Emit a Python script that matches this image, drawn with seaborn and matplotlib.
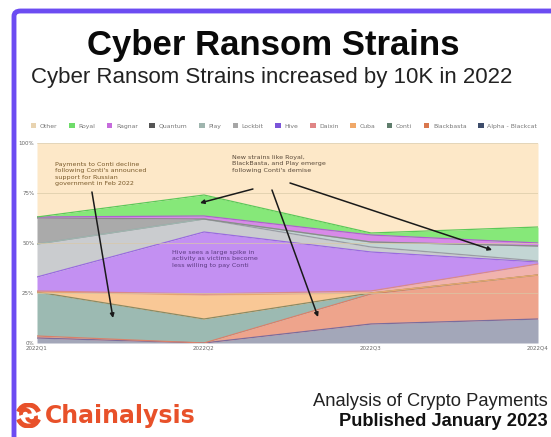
import numpy as np
import pandas as pd
import matplotlib
matplotlib.use("Agg")
import matplotlib.pyplot as plt
import seaborn as sns
from matplotlib.patches import Patch, FancyBboxPatch, Arc

quarters = ["2022Q1", "2022Q2", "2022Q3", "2022Q4"]
# stacked bottom -> top (share of payments, %)
alpha_blackcat = [2.5, 0.0, 9.5, 12.0]
blackbasta = [1.0, 0.0, 15.0, 22.0]
conti = [22.0, 12.0, 0.5, 0.0]
cuba = [0.0, 12.0, 0.0, 0.0]
daixin = [0.5, 0.5, 1.0, 5.5]
hive = [7.0, 31.0, 19.5, 1.0]
lockbit = [16.5, 6.5, 2.5, 0.5]
play = [0.0, 0.0, 2.5, 7.5]
quantum = [13.0, 0.0, 0.0, 0.0]
ragnar = [0.5, 1.5, 3.5, 1.5]
royal = [0.0, 10.5, 1.0, 8.0]
other = [37.0, 26.0, 45.0, 42.0]

series_names = ["Alpha - Blackcat", "Blackbasta", "Conti", "Cuba", "Daixin", "Hive",
                "Lockbit", "Play", "Quantum", "Ragnar", "Royal", "Other"]
series_vals = [alpha_blackcat, blackbasta, conti, cuba, daixin, hive,
               lockbit, play, quantum, ragnar, royal, other]
fill_colors = ["#a3a7b9", "#eea48c", "#9cbab2", "#f9c896", "#f1b3ad", "#c390f2",
               "#cacccf", "#c3d6d4", "#aaaaaa", "#d88ae8", "#86e879", "#fde8c8"]
edge_colors = ["#7b6c9c", "#d9806a", "#8c8a62", "#e8a870", "#d98a8a", "#9a6ae0",
               "#9a9ca4", "#9fb5ae", "#8a8a8a", "#b060d0", "#5cc858", "#fde8c8"]
legend_colors = ["#3e4d6b", "#d9774e", "#5f7d6c", "#f0a868", "#e08585", "#7b55d9",
                 "#a6a6a6", "#9fb5ae", "#555555", "#c66bdc", "#6fdc6a", "#e8d3b0"]

W, H = 551, 437
sns.set_theme(style="white")
fig = plt.figure(figsize=(W / 100, H / 100), dpi=100)
fig.patch.set_facecolor("white")

def fx(px):
    return px / W

def fy(py):
    return 1 - py / H

ax = fig.add_axes([fx(37), fy(343), fx(538) - fx(37), fy(143) - fy(343)])
x = np.arange(len(quarters))
df = pd.DataFrame({n: v for n, v in zip(series_names, series_vals)}, index=x)
cum = df.cumsum(axis=1)

ax.stackplot(x, *[df[n].values for n in series_names], colors=fill_colors, linewidth=0)
long = []
for i, n in enumerate(series_names[:-1]):
    for xi in x:
        long.append({"x": xi, "y": cum[n].iloc[xi], "s": n})
ldf = pd.DataFrame(long)
sns.lineplot(data=ldf, x="x", y="y", hue="s", palette=dict(zip(series_names, edge_colors)),
             linewidth=0.9, legend=False, ax=ax, sort=False)

for gy in [25, 50, 75, 100]:
    ax.axhline(gy, color="#d9c9a6", lw=0.6, alpha=0.8, zorder=5)

ax.set_xlim(0, 3)
ax.set_ylim(0, 100)
ax.set_xticks(x)
ax.set_xticklabels(quarters, fontsize=4, color="#666666")
ax.set_yticks([0, 25, 50, 75, 100])
ax.set_yticklabels(["0%", "25%", "50%", "75%", "100%"], fontsize=4, color="#666666")
ax.tick_params(axis="both", length=0, pad=2)
ax.set_xlabel("")
ax.set_ylabel("")
for s in ax.spines.values():
    s.set_visible(False)

# annotations
ax.text(0.108, 90.5, "Payments to Conti decline\nfollowing Conti's announced\nsupport for Russian\ngovernment in Feb 2022",
        fontsize=4.6, color="#7a5a2a", va="top", ha="left", linespacing=1.35, zorder=6)
ax.text(1.168, 94, "New strains like Royal,\nBlackBasta, and Play emerge\nfollowing Conti's demise",
        fontsize=4.6, color="#5a4a3a", va="top", ha="left", linespacing=1.35, zorder=6)
ax.text(0.808, 46.5, "Hive sees a large spike in\nactivity as victims become\nless willing to pay Conti",
        fontsize=4.6, color="#5b3a80", va="top", ha="left", linespacing=1.35, zorder=6)
arrows = [((0.329, 75.5), (0.455, 12.5)),
          ((1.293, 77.0), (0.976, 70.0)),
          ((1.407, 76.5), (1.683, 13.0)),
          ((1.515, 80.0), (2.725, 46.5))]
for (s, e) in arrows:
    ax.annotate("", xy=e, xytext=s,
                arrowprops=dict(arrowstyle="-|>", color="#1a1a1a", lw=1.1,
                                mutation_scale=6, shrinkA=0, shrinkB=0), zorder=7)

# legend
handles = [Patch(facecolor=c, edgecolor="none") for c in legend_colors[::-1]]
labels = series_names[::-1]
fig.legend(handles, labels, loc="center", bbox_to_anchor=(fx(284), fy(126)), ncol=12,
           fontsize=4.4, frameon=False, handlelength=0.9, handleheight=0.9,
           columnspacing=1.9, handletextpad=0.6, labelcolor="#777777")

# titles
fig.text(fx(273), fy(45), "Cyber Ransom Strains", fontsize=25, fontweight="bold",
         ha="center", va="center", family="Liberation Sans", color="#0a0a0a")
fig.text(fx(272), fy(77), "Cyber Ransom Strains increased by 10K in 2022", fontsize=16,
         ha="center", va="center", family="Liberation Sans", color="#222222")

# bottom texts
fig.text(fx(548), fy(402), "Analysis of Crypto Payments", fontsize=13.2, ha="right", va="center",
         family="Liberation Sans", color="#222222")
fig.text(fx(548), fy(421), "Published January 2023", fontsize=13.2, fontweight="bold",
         ha="right", va="center", family="Liberation Sans", color="#111111")
fig.text(fx(45), fy(416), "Chainalysis", fontsize=17, fontweight="bold", ha="left", va="center",
         family="DejaVu Sans", color="#e8512a")

# logo icon
lax = fig.add_axes([fx(16), fy(428), fx(25), fy(0) - fy(25)])
lax.set_xlim(-1, 1)
lax.set_ylim(-1, 1)
lax.set_aspect("equal")
lax.axis("off")
lax.add_patch(Arc((0, 0.0), 1.7, 1.7, theta1=20, theta2=160, lw=3.6, color="#e8512a"))
lax.add_patch(Arc((0, 0.0), 1.7, 1.7, theta1=200, theta2=340, lw=3.6, color="#e8512a"))
lax.add_patch(Arc((-0.25, 0.15), 0.7, 0.6, theta1=0, theta2=200, lw=2.8, color="#e8512a"))
lax.add_patch(Arc((0.25, -0.15), 0.7, 0.6, theta1=180, theta2=380, lw=2.8, color="#e8512a"))

# purple frame
frame = FancyBboxPatch((fx(14), fy(470)), fx(600), fy(11) - fy(470),
                       boxstyle="round,pad=0,rounding_size=0.012",
                       transform=fig.transFigure, facecolor="none",
                       edgecolor="#6c4cf2", lw=3.5, clip_on=False)
fig.patches.append(frame)

fig.savefig("out.png", dpi=100)
